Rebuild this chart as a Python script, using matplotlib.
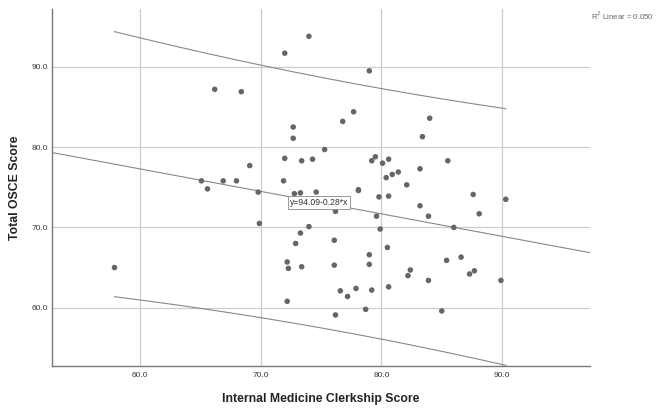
import numpy as np
import matplotlib
matplotlib.use("Agg")
import matplotlib.pyplot as plt

plt.rcParams['font.family'] = ['Liberation Sans', 'DejaVu Sans']

# Internal Medicine Clerkship Score (x) and Total OSCE Score (y)
clerkship = [57.9, 66.2, 68.4, 72.0, 74.0, 79.0, 65.1, 65.6, 66.9, 68.0,
             69.1, 69.8, 71.9, 72.0, 72.7, 72.7, 73.4, 74.3, 75.3, 76.8,
             77.7, 84.0, 83.4, 79.2, 79.5, 80.1, 80.6, 80.4, 80.9, 81.4,
             82.1, 83.2, 85.5, 87.6, 90.3, 78.1, 79.8, 80.6, 83.2, 79.6,
             83.9, 79.9, 80.5, 79.0, 79.0, 82.4, 82.2, 83.9, 77.9, 79.2,
             80.6, 78.7, 88.1, 86.0, 85.4, 86.6, 87.3, 87.7, 89.9, 85.0,
             72.8, 73.3, 74.6, 78.1, 76.2, 69.9, 74.0, 73.3, 72.9, 76.1,
             72.2, 72.3, 73.4, 76.1, 76.6, 77.2, 72.2, 76.2]
osce = [65.0, 87.2, 86.9, 91.7, 93.8, 89.5, 75.8, 74.8, 75.8, 75.8,
        77.7, 74.4, 75.8, 78.6, 82.5, 81.1, 78.3, 78.5, 79.7, 83.2,
        84.4, 83.6, 81.3, 78.3, 78.8, 78.0, 78.5, 76.2, 76.6, 76.9,
        75.3, 77.3, 78.3, 74.1, 73.5, 74.6, 73.8, 73.9, 72.7, 71.4,
        71.4, 69.8, 67.5, 66.6, 65.4, 64.7, 64.0, 63.4, 62.4, 62.2,
        62.6, 59.8, 71.7, 70.0, 65.9, 66.3, 64.2, 64.6, 63.4, 59.6,
        74.2, 74.3, 74.4, 74.7, 72.0, 70.5, 70.1, 69.3, 68.0, 68.4,
        65.7, 64.9, 65.1, 65.3, 62.1, 61.4, 60.8, 59.1]

# Reported fit
intercept = 94.09
slope = -0.28
r2_text = "R$^2$ Linear = 0.050"
eq_text = "y=94.09-0.28*x"

ticks = [60.0, 70.0, 80.0, 90.0]

x = np.array(clerkship)
y = np.array(osce)
n = len(x)

fig = plt.figure(figsize=(6.56, 4.09), dpi=100)
ax = fig.add_axes([52.3/656, 1-365.7/409, (590.3-52.3)/656, (365.7-9)/409])
ax.set_xlim(52.75, 97.3)
ax.set_ylim(52.78, 97.2)

ax.set_xticks(ticks)
ax.set_yticks(ticks)
ax.set_xticklabels([f"{t:.1f}" for t in ticks])
ax.set_yticklabels([f"{t:.1f}" for t in ticks])
ax.tick_params(length=0, labelsize=6, colors='#3a3a3a')
ax.tick_params(axis='x', pad=4.5)
ax.tick_params(axis='y', pad=3)
ax.grid(True, color='#cccccc', linewidth=0.9)
ax.set_axisbelow(True)
for s in ['top', 'right']:
    ax.spines[s].set_visible(False)
for s in ['left', 'bottom']:
    ax.spines[s].set_color('#777777')
    ax.spines[s].set_linewidth(1.0)

# fit line across full x range
xl = np.array(ax.get_xlim())
ax.plot(xl, intercept + slope * xl, color='#888888', lw=0.8, zorder=2)

# 95% individual prediction interval
resid = y - (intercept + slope * x)
s_err = np.sqrt(np.sum(resid ** 2) / (n - 2))
t_val = 1.992
xbar = x.mean()
sxx = np.sum((x - xbar) ** 2)
xs = np.linspace(x.min(), x.max(), 200)
fit = intercept + slope * xs
half = t_val * s_err * np.sqrt(1 + 1 / n + (xs - xbar) ** 2 / sxx)
ax.plot(xs, fit + half, color='#888888', lw=0.8, zorder=2)
ax.plot(xs, fit - half, color='#888888', lw=0.8, zorder=2)

ax.scatter(x, y, s=16, color='#666666', edgecolors='none', zorder=3)

ax.text(72.4, 73.1, eq_text, fontsize=6.2, color='#333333', ha='left', va='center',
        zorder=4,
        bbox=dict(boxstyle='square,pad=0.2', facecolor='white', edgecolor='#888888', linewidth=0.6))

fig.text(591/656, 1-16/409, r2_text, fontsize=5.6, color='#666666', ha='left', va='center')
fig.text(321/656, 1-399/409, "Internal Medicine Clerkship Score", fontsize=8.8, fontweight='bold',
         ha='center', va='center', color='#222222')
fig.text(15.5/656, 1-188/409, "Total OSCE Score", fontsize=8.8, fontweight='bold',
         ha='center', va='center', rotation=90, color='#222222')

fig.savefig("out.png", dpi=100)
